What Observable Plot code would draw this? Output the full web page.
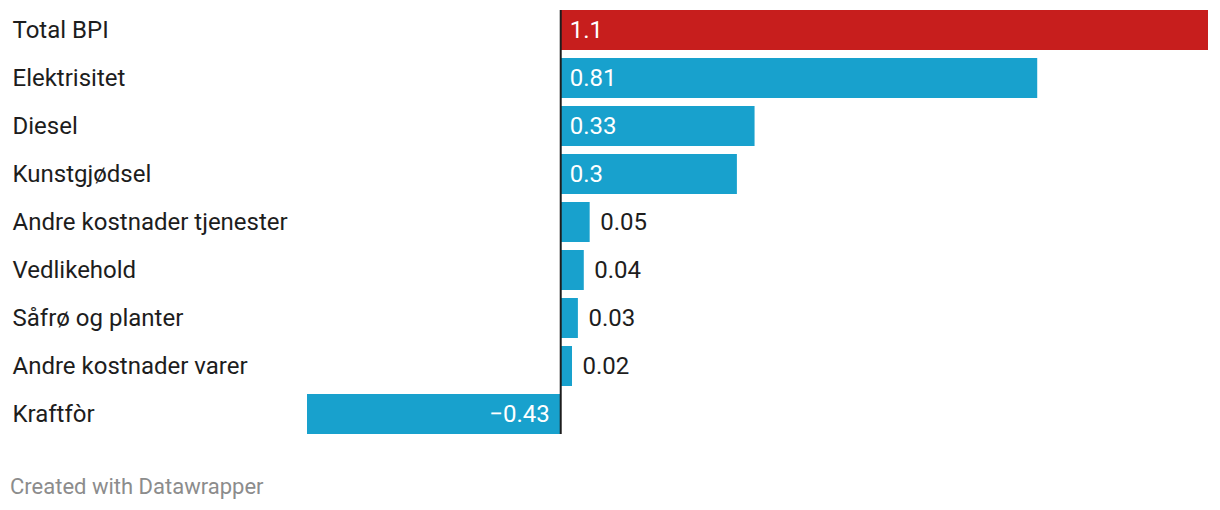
<!DOCTYPE html>
<html>
<head>
<meta charset="utf-8">
<script src="https://cdn.jsdelivr.net/npm/d3@7"></script>
<script src="https://cdn.jsdelivr.net/npm/@observablehq/plot@0.6"></script>
<style>
  html, body { margin: 0; padding: 0; background: #fff; }
  body { font-family: Roboto, sans-serif; width: 1220px; }
  #footer { font-family: Roboto, sans-serif; font-size: 22px; line-height: 26px; color: #8c8c8c; margin: 34px 0 0 10px; }
</style>
</head>
<body>
<div id="chart"></div>
<div id="footer">Created with Datawrapper</div>
<script>
const categories = ["Total BPI", "Elektrisitet", "Diesel", "Kunstgjødsel", "Andre kostnader tjenester", "Vedlikehold", "Såfrø og planter", "Andre kostnader varer", "Kraftfòr"];
const values = [1.1, 0.81, 0.33, 0.3, 0.05, 0.04, 0.03, 0.02, -0.43];
const labels = ["1.1", "0.81", "0.33", "0.3", "0.05", "0.04", "0.03", "0.02", "−0.43"];
const highlight = ["Total BPI"];

const data = categories.map((c, i) => ({category: c, value: values[i], label: labels[i]}));
const inside = data.filter(d => Math.abs(d.value) >= 0.1);
const insidePos = inside.filter(d => d.value > 0);
const insideNeg = inside.filter(d => d.value < 0);
const outside = data.filter(d => Math.abs(d.value) < 0.1);

const chart = Plot.plot({
  width: 1220,
  height: 440,
  marginTop: 10,
  marginBottom: 6,
  marginLeft: 0,
  marginRight: 0,
  style: {fontFamily: "Roboto, sans-serif", fontSize: "24px", background: "white"},
  x: {domain: [-0.43, 1.1], range: [307, 1208], axis: null},
  y: {domain: categories, paddingInner: 1/6, paddingOuter: 0, axis: null},
  marks: [
    Plot.barX(data, {
      x: "value", y: "category",
      fill: d => highlight.includes(d.category) ? "#c71e1d" : "#18a1cd"
    }),
    Plot.ruleX([0], {stroke: "#1d1d1d", strokeWidth: 2}),
    Plot.text(data, {
      y: "category", text: "category", frameAnchor: "left", dx: 12,
      textAnchor: "start", fill: "#1d1d1d", fontSize: 24
    }),
    Plot.text(insidePos, {
      x: 0, y: "category", text: "label", dx: 9,
      textAnchor: "start", fill: "white", fontSize: 24
    }),
    Plot.text(insideNeg, {
      x: 0, y: "category", text: "label", dx: -11,
      textAnchor: "end", fill: "white", fontSize: 24
    }),
    Plot.text(outside, {
      x: "value", y: "category", text: "label", dx: 10,
      textAnchor: "start", fill: "#1d1d1d", fontSize: 24
    })
  ]
});
document.getElementById("chart").appendChild(chart);
</script>
</body>
</html>
